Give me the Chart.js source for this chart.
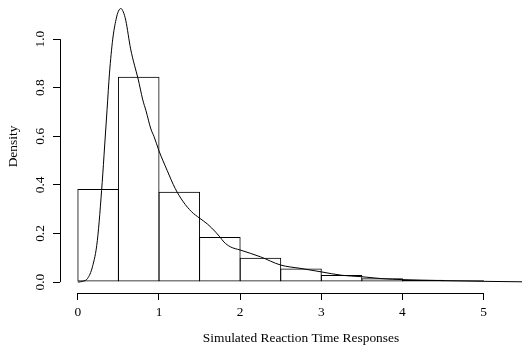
<!DOCTYPE html>
<html>
<head>
<meta charset="utf-8">
<script src="https://cdn.jsdelivr.net/npm/chart.js@4"></script>
<style>
  html, body { margin: 0; padding: 0; background: #fff; overflow: hidden; }
  #wrap { position: absolute; left: 0; top: 0; width: 522px; height: 346px; overflow: hidden; }
</style>
</head>
<body>
<div id="wrap"><canvas id="hist" width="542" height="346"></canvas></div>
<script>
// histogram bins (centres of 0.5-wide bins) and their densities
const binCentres = [0.25, 0.75, 1.25, 1.75, 2.25, 2.75, 3.25, 3.75, 4.25, 4.75, 5.25];
const binDensity = [0.383, 0.845, 0.372, 0.186, 0.10, 0.056, 0.029, 0.016, 0.0095, 0.007, 0.003];

// kernel density curve
const curveX = [0, 0.06, 0.12, 0.18, 0.24, 0.3, 0.33, 0.36, 0.39, 0.43, 0.47, 0.5, 0.53, 0.56, 0.59,
  0.65, 0.7, 0.74, 0.8, 0.84, 0.9, 0.94, 1.0, 1.1, 1.2, 1.3, 1.4, 1.5, 1.6, 1.7, 1.75, 1.8, 1.88,
  2.0, 2.25, 2.5, 2.75, 3.0, 3.25, 3.5, 3.75, 4.0, 4.5, 5.0, 5.5, 5.72];
const curveY = [0, 0.003, 0.015, 0.063, 0.17, 0.41, 0.56, 0.71, 0.86, 1.0, 1.08, 1.115, 1.126, 1.112, 1.078,
  0.96, 0.89, 0.84, 0.75, 0.705, 0.63, 0.598, 0.54, 0.46, 0.385, 0.33, 0.29, 0.263, 0.238, 0.205, 0.186, 0.165, 0.145,
  0.132, 0.104, 0.07, 0.056, 0.042, 0.028, 0.022, 0.014, 0.01, 0.006, 0.003, 0.001, 0.0005];

const xTicks = [0, 1, 2, 3, 4, 5];
const yTicks = [0, 0.2, 0.4, 0.6, 0.8, 1.0];
const yTickLabels = ["0.0", "0.2", "0.4", "0.6", "0.8", "1.0"];

const serif = "'Liberation Serif', 'DejaVu Serif', serif";
const fontSize = 13.4;

// bins are ~40.6px wide; widen by 1px so neighbouring inset borders overlap into one line
const binPercent = 41.57 / 40.57;

// R-style axes: lines only span first..last tick, y labels parallel to axis
const rAxes = {
  id: "rAxes",
  afterDraw(chart) {
    const ctx = chart.ctx;
    const xs = chart.scales.x;
    const ys = chart.scales.y;
    const area = chart.chartArea;
    ctx.save();
    ctx.strokeStyle = "#000";
    ctx.lineWidth = 1;
    ctx.beginPath();
    ctx.moveTo(xs.getPixelForValue(xTicks[0]), area.bottom + 0.5);
    ctx.lineTo(xs.getPixelForValue(xTicks[xTicks.length - 1]), area.bottom + 0.5);
    ctx.moveTo(area.left + 0.5, ys.getPixelForValue(yTicks[0]));
    ctx.lineTo(area.left + 0.5, ys.getPixelForValue(yTicks[yTicks.length - 1]));
    ctx.stroke();

    ctx.fillStyle = "#000";
    ctx.font = fontSize + "px " + serif;
    ctx.textAlign = "center";
    ctx.textBaseline = "alphabetic";
    yTicks.forEach(function (v, i) {
      ctx.save();
      ctx.translate(area.left - 16.5, ys.getPixelForValue(v));
      ctx.rotate(-Math.PI / 2);
      ctx.fillText(yTickLabels[i], 0, 0);
      ctx.restore();
    });
    ctx.restore();
  },
};

new Chart(document.getElementById("hist"), {
  type: "bar",
  data: {
    datasets: [
      {
        type: "line",
        data: curveX.map(function (x, i) { return { x: x, y: curveY[i] }; }),
        borderColor: "#000",
        borderWidth: 1,
        pointRadius: 0,
        cubicInterpolationMode: "monotone",
        fill: false,
        order: 0,
      },
      {
        type: "bar",
        data: binCentres.map(function (x, i) { return { x: x, y: binDensity[i] }; }),
        backgroundColor: "rgba(255,255,255,0)",
        borderColor: "#000",
        borderWidth: 1,
        borderSkipped: false,
        inflateAmount: 0,
        barPercentage: binPercent,
        categoryPercentage: 1,
        order: 1,
      },
    ],
  },
  options: {
    responsive: false,
    animation: false,
    devicePixelRatio: 1,
    layout: { padding: 0 },
    plugins: { legend: { display: false }, tooltip: { enabled: false } },
    scales: {
      x: {
        type: "linear",
        offset: false,
        min: -0.22,
        max: 5.72,
        afterBuildTicks: function (s) { s.ticks = xTicks.map(function (v) { return { value: v }; }); },
        afterFit: function (s) { s.height = 53; },
        border: { display: false },
        grid: { offset: false, drawOnChartArea: false, drawTicks: true, tickLength: 7, color: "#000" },
        ticks: {
          color: "#000",
          padding: 4,
          maxRotation: 0,
          font: { family: serif, size: fontSize },
        },
        title: {
          display: true,
          text: "Simulated Reaction Time Responses",
          color: "#000",
          padding: { top: 0, bottom: -1 },
          font: { family: serif, size: fontSize },
        },
      },
      y: {
        type: "linear",
        min: -0.045,
        max: 1.161,
        afterBuildTicks: function (s) { s.ticks = yTicks.map(function (v) { return { value: v }; }); },
        afterFit: function (s) { s.width = 60; },
        border: { display: false },
        grid: { drawOnChartArea: false, drawTicks: true, tickLength: 7, color: "#000" },
        ticks: { display: false },
        title: {
          display: true,
          text: "Density",
          color: "#000",
          padding: { top: 5, bottom: 0 },
          font: { family: serif, size: fontSize },
        },
      },
    },
  },
  plugins: [rAxes],
});
</script>
</body>
</html>
